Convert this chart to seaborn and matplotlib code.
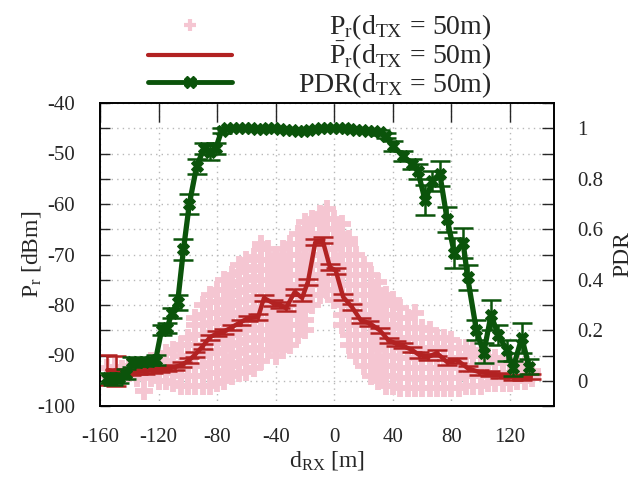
import numpy as np
import pandas as pd
import matplotlib
matplotlib.use("Agg")
import matplotlib.pyplot as plt
import seaborn as sns
from matplotlib.ticker import MultipleLocator
from matplotlib.lines import Line2D

# ---------------- data ----------------

# raw received power samples: x station -> list of P_r values [dBm]
pr_x = list(range(-155, 140, 5))
pr_y = [
    [-94.0, -92.5], [-93.8, -92.2], [-94.2, -92.6], [-93.5, -92.0], [-94.5, -92.5],
    [-97.0, -94.0, -92.0], [-94.5, -92.5, -91.0], [-95.0, -93.0, -91.0],
    [-95.0, -93.0, -91.0, -89.5], [-95.5, -93.5, -91.5, -89.0],
    [-96.0, -94.0, -92.0, -90.0, -88.0],
    [-96.0, -94.0, -92.0, -90.0, -88.0, -86.5],
    [-96.0, -94.0, -92.0, -90.0, -88.0, -86.0, -84.0, -82.5],
    [-96.0, -94.0, -92.0, -90.0, -88.0, -86.0, -84.0, -82.0, -80.0],
    [-96.0, -93.5, -91.5, -89.5, -87.5, -85.5, -83.5, -81.5, -79.5, -78.0],
    [-95.5, -93.5, -91.5, -89.5, -87.5, -85.5, -83.5, -81.5, -79.5, -77.0],
    [-95.0, -93.0, -91.0, -89.0, -87.0, -85.0, -83.0, -81.0, -79.0, -77.0, -75.0],
    [-94.0, -92.0, -90.0, -88.0, -86.0, -84.0, -82.0, -80.0, -78.0, -76.0, -74.0],
    [-93.5, -91.5, -89.5, -87.5, -85.5, -83.5, -81.5, -79.5, -77.5, -75.5, -73.5, -72.0],
    [-93.3, -91.0, -89.0, -87.0, -85.0, -83.0, -81.0, -79.0, -77.0, -75.0, -73.0, -71.0],
    [-92.5, -90.5, -88.5, -86.5, -84.5, -82.5, -80.5, -78.5, -76.5, -74.5, -72.5, -70.5],
    [-91.0, -89.0, -87.0, -85.0, -83.0, -81.0, -79.0, -77.0, -75.0, -73.0, -71.0, -69.0, -68.0],
    [-89.0, -87.0, -85.0, -83.0, -81.0, -79.0, -77.0, -75.0, -73.0, -71.0, -69.0],
    [-90.0, -88.0, -86.0, -84.0, -82.0, -80.0, -78.0, -76.0, -74.0, -72.0, -70.0],
    [-89.0, -87.0, -85.0, -83.0, -81.0, -79.0, -77.0, -75.0, -73.0, -71.0, -69.0],
    [-88.0, -86.0, -84.0, -82.0, -80.0, -78.0, -76.0, -74.0, -72.0, -70.0, -68.0],
    [-86.0, -84.0, -82.0, -80.0, -78.0, -76.0, -74.0, -72.0, -70.0, -68.0, -66.0],
    [-85.0, -83.0, -81.0, -79.0, -77.0, -75.0, -73.0, -71.0, -69.0, -67.0, -65.0, -63.5],
    [-80.0, -78.0, -76.0, -74.0, -72.0, -70.0, -68.0, -66.0, -64.0, -63.0],
    [-78.0, -76.0, -74.0, -72.0, -70.0, -68.0, -66.0, -64.0, -62.0],
    [-77.0, -75.0, -73.0, -71.0, -69.0, -67.0, -65.0, -63.0, -61.0],
    [-79.0, -77.0, -75.0, -73.0, -71.0, -69.0, -67.0, -65.0, -63.0],
    [-84.0, -82.0, -80.0, -78.0, -76.0, -74.0, -72.0, -70.0, -68.0, -66.0, -64.0],
    [-88.0, -86.0, -84.0, -82.0, -80.0, -78.0, -76.0, -74.0, -72.0, -70.0, -68.0, -67.0],
    [-90.0, -88.0, -86.0, -84.0, -82.0, -80.0, -78.0, -76.0, -74.0, -72.0, -70.0],
    [-92.0, -90.0, -88.0, -86.0, -84.0, -82.0, -80.0, -78.0, -76.0, -74.0, -72.0],
    [-94.0, -92.0, -90.0, -88.0, -86.0, -84.0, -82.0, -80.0, -78.0, -76.0, -74.0],
    [-95.0, -93.0, -91.0, -89.0, -87.0, -85.0, -83.0, -81.0, -79.0, -77.0, -75.5],
    [-96.0, -94.0, -92.0, -90.0, -88.0, -86.0, -84.0, -82.0, -80.0, -78.0],
    [-96.0, -94.0, -92.0, -90.0, -88.0, -86.0, -84.0, -82.0, -80.0, -79.0],
    [-96.5, -94.5, -92.5, -90.5, -88.5, -86.5, -84.5, -82.5, -80.5],
    [-96.5, -94.5, -92.5, -90.5, -88.5, -86.5, -84.5, -82.5],
    [-96.5, -94.5, -92.5, -90.5, -88.5, -86.5, -84.5, -81.5],
    [-96.5, -94.5, -92.5, -90.5, -88.5, -86.5, -84.5],
    [-96.5, -94.5, -92.5, -90.5, -88.5, -86.5, -85.0],
    [-96.5, -94.5, -92.5, -90.5, -88.5, -86.5],
    [-96.5, -94.5, -92.5, -90.5, -88.5, -86.5],
    [-96.5, -94.5, -92.5, -90.5, -88.5, -87.0],
    [-96.5, -94.5, -92.5, -90.5, -88.5],
    [-96.0, -94.0, -92.0, -90.0, -88.5],
    [-96.0, -94.0, -92.0, -90.0, -89.0],
    [-96.0, -94.0, -92.0, -90.0],
    [-95.5, -93.5, -91.5, -90.3],
    [-95.5, -93.5, -91.5, -90.5],
    [-95.5, -93.5, -91.5],
    [-95.5, -93.5, -91.5],
    [-95.0, -93.0, -91.5],
    [-95.0, -93.0, -92.0],
    [-94.5, -93.0],
]

# mean received power with error
mean_x = [-155, -149, -144, -139, -134, -129, -124, -119, -114, -109, -104, -99, -95,
          -90, -85, -80, -75, -70, -64, -59, -52, -48, -42, -37, -33, -27, -22, -18,
          -13, -8, -3, 1, 6, 12, 18, 24, 31, 37, 42, 47, 53, 58, 64, 70, 77, 84, 91,
          99, 106, 113, 122, 128, 134]
mean_y = [-92.9, -93.0, -93.3, -93.3, -93.2, -93.1, -92.9, -92.8, -92.6, -92.3, -91.8,
          -90.9, -89.8, -88.2, -86.4, -85.6, -85.2, -84.4, -83.4, -82.6, -82.4, -78.6,
          -79.6, -80.0, -80.6, -77.4, -78.6, -75.4, -67.6, -67.2, -72.5, -73.2, -78.4,
          -80.4, -83.0, -83.6, -85.0, -87.0, -87.6, -88.1, -88.9, -89.9, -90.3, -89.5,
          -91.3, -90.9, -92.5, -93.3, -93.5, -93.9, -94.3, -94.3, -94.2]
mean_err = [3.0, 3.0, 0.6, 0.5, 0.5, 0.5, 0.5, 0.5, 0.5, 0.5, 0.5, 0.5, 0.5, 0.5, 0.5,
            0.5, 0.5, 0.5, 0.5, 0.5, 0.6, 0.6, 0.6, 0.6, 0.6, 0.6, 0.6, 0.6, 0.6, 0.6,
            0.6, 0.6, 0.6, 0.6, 0.5, 0.5, 0.5, 0.5, 0.5, 0.5, 0.5, 0.5, 0.5, 0.5, 0.5,
            0.5, 0.5, 0.5, 0.5, 0.5, 0.5, 0.5, 0.5]

# packet delivery ratio with error
pdr_x = [-155, -151, -147, -142, -138, -134, -130, -126, -122, -118, -114, -111, -107,
         -103, -99, -94, -89, -85, -81, -77, -73, -69, -65, -61, -57, -53, -49, -45,
         -41, -37, -33, -29, -25, -21, -17, -13, -9, -5, -1, 3, 7, 11, 15, 19, 23, 27,
         31, 35, 40, 47, 53, 57, 62, 67, 72, 77, 82, 88, 91, 97, 102, 107, 112, 118,
         122, 128, 133]
pdr_y = [0.01, 0.005, 0.012, 0.025, 0.075, 0.075, 0.075, 0.078, 0.083, 0.20, 0.21, 0.27,
         0.31, 0.52, 0.70, 0.85, 0.92, 0.905, 0.92, 0.99, 1.0, 1.0, 1.0, 1.0, 1.0,
         0.998, 0.998, 1.0, 1.0, 0.998, 0.995, 0.995, 0.99, 0.99, 0.995, 0.998, 1.0,
         1.0, 1.0, 1.0, 1.0, 0.998, 0.995, 0.995, 0.99, 0.99, 0.985, 0.97, 0.93, 0.89,
         0.86, 0.83, 0.715, 0.79, 0.82, 0.64, 0.505, 0.545, 0.41, 0.20, 0.11, 0.26,
         0.18, 0.12, 0.05, 0.17, 0.055]
pdr_err = [0.02, 0.02, 0.02, 0.02, 0.02, 0.015, 0.015, 0.015, 0.02, 0.02, 0.02, 0.02,
           0.03, 0.04, 0.04, 0.03, 0.02, 0.03, 0.02, 0.01, 0.005, 0.005, 0.005, 0.005,
           0.005, 0.005, 0.005, 0.005, 0.005, 0.005, 0.005, 0.005, 0.005, 0.005, 0.005,
           0.005, 0.005, 0.005, 0.005, 0.005, 0.005, 0.005, 0.005, 0.005, 0.005, 0.005,
           0.01, 0.01, 0.02, 0.02, 0.02, 0.03, 0.06, 0.04, 0.05, 0.05, 0.06, 0.06, 0.05,
           0.04, 0.04, 0.06, 0.04, 0.04, 0.03, 0.06, 0.03]

PINK = "#f5c6d2"
RED = "#b22222"
GREEN = "#0b540b"

# ---------------- style ----------------

sns.set_theme(style="white")
plt.rcParams["font.family"] = ["Liberation Serif", "DejaVu Serif"]
plt.rcParams["mathtext.fontset"] = "custom"
plt.rcParams["mathtext.rm"] = "Liberation Serif"
plt.rcParams["mathtext.it"] = "Liberation Serif:italic"
plt.rcParams["font.size"] = 16
plt.rcParams["axes.unicode_minus"] = False

raw = pd.DataFrame({"x": pr_x, "y": pr_y}).explode("y")
raw["y"] = raw["y"].astype(float)

fig = plt.figure(figsize=(6.4, 5), dpi=100)
ax = fig.add_axes([100 / 640, 1 - 406 / 500, 454 / 640, 303 / 500])
ax2 = ax.twinx()

# ---------------- plot ----------------

sns.scatterplot(data=raw, x="x", y="y", marker="+", s=170, linewidth=4.2,
                color=PINK, ax=ax, zorder=2, legend=False)

ax.errorbar(mean_x, mean_y, yerr=mean_err, fmt="none", ecolor=RED,
            elinewidth=1.8, capsize=7, capthick=1.8, zorder=3)
sns.lineplot(x=mean_x, y=mean_y, color=RED, lw=3.2, ax=ax, zorder=4)

ax2.errorbar(pdr_x, pdr_y, yerr=pdr_err, fmt="none", ecolor=GREEN,
             elinewidth=1.8, capsize=7, capthick=1.8, zorder=3)
sns.lineplot(x=pdr_x, y=pdr_y, color=GREEN, lw=3.8, marker="X", ms=8,
             mec=GREEN, ax=ax2, zorder=4)

# ---------------- axes ----------------

ax.set_xlim(-160, 150)
ax.set_ylim(-100, -40)
ax2.set_ylim(-0.1, 1.1)

ax.xaxis.set_major_locator(MultipleLocator(40))
ax.yaxis.set_major_locator(MultipleLocator(10))
ax.yaxis.set_minor_locator(MultipleLocator(5))
ax2.yaxis.set_minor_locator(MultipleLocator(0.1))
ax2.set_yticks([0, 0.2, 0.4, 0.6, 0.8, 1.0])
ax2.set_yticklabels(["0", "0.2", "0.4", "0.6", "0.8", "1"])

ax.tick_params(axis="x", which="major", direction="in", length=14, width=1,
               top=True, pad=16, labelsize=15)
ax.tick_params(axis="y", which="both", direction="in", length=7, width=1,
               right=False, pad=18, labelsize=15)
ax2.tick_params(axis="y", which="both", direction="in", length=9, width=1,
                pad=17, labelsize=15)

ax.grid(True, which="major", axis="x", color="#b8b8b8", ls=(0, (1, 3)), lw=1)
ax.grid(True, which="both", axis="y", color="#b8b8b8", ls=(0, (1, 3)), lw=1)
ax.set_axisbelow(True)

for a in (ax, ax2):
    for s in a.spines.values():
        s.set_color("black")
        s.set_linewidth(1.2)

ax.set_xlabel(r"$\mathrm{d_{RX}}$ [m]", fontsize=17, labelpad=1)
ax.set_ylabel(r"$\mathrm{P_r}$ [dBm]", fontsize=17, labelpad=-4)
ax2.set_ylabel("PDR", fontsize=17, labelpad=6)

# ---------------- legend ----------------

handles = [
    Line2D([], [], ls="none", marker="+", ms=9, mew=3, color=PINK),
    Line2D([], [], color=RED, lw=3),
    Line2D([], [], color=GREEN, lw=3.5, marker="X", ms=8),
]
labels = [
    r"$\mathrm{P_r}(\mathrm{d_{TX}}\,=\,50\mathrm{m})$",
    r"$\mathrm{\bar{P}_r}(\mathrm{d_{TX}}\,=\,50\mathrm{m})$",
    r"$\mathrm{PDR}(\mathrm{d_{TX}}\,=\,50\mathrm{m})$",
]
leg = fig.legend(handles, labels, loc="upper center", bbox_to_anchor=(0.5, 1.025),
                 frameon=False, handlelength=3.0, fontsize=20, labelspacing=-0.08,
                 handletextpad=2.4)
fig.canvas.draw()
widths = [t.get_window_extent().width for t in leg.get_texts()]
for t, w in zip(leg.get_texts(), widths):
    t.set_position((max(widths) - w, 0))

fig.savefig("out.png", dpi=100)
